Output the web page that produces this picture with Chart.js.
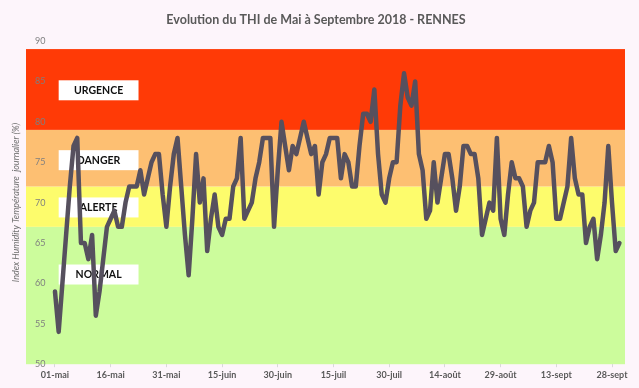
<!DOCTYPE html>
<html lang="fr">
<head>
<meta charset="utf-8">
<script src="https://cdn.jsdelivr.net/npm/chart.js@4.4.1/dist/chart.umd.min.js"></script>
<style>
    html, body { margin: 0; padding: 0; background: #fdf5fb; }
    #wrap { width: 639px; height: 388px; }
</style>
</head>
<body>
<div id="wrap"><canvas id="thiChart"></canvas></div>
<script>
// Données (1 valeur par jour, du 01-mai au 30-sept)
const dateLabels = ['01-mai', '16-mai', '31-mai', '15-juin', '30-juin', '15-juil', '30-juil', '14-août', '29-août', '13-sept', '28-sept'];
const labelDays = [0, 15, 30, 45, 60, 75, 90, 105, 120, 135, 150];
const thiValues = [
    59, 54, 60, 66, 72, 77, 78, 65, 65, 63, 66, 56, 59, 63, 67, 68, 69, 67, 67, 70,
    72, 72, 72, 74, 71, 73, 75, 76, 76, 71, 67, 72, 76, 78, 72, 66, 61, 68, 76, 70,
    73, 64, 68, 71, 67, 66, 68, 68, 72, 73, 78, 68, 69, 70, 73, 75, 78, 78, 78, 67,
    74, 80, 77, 74, 77, 76, 78, 80, 78, 76, 77, 71, 75, 76, 78, 78, 78, 73, 76, 75,
    72, 72, 77, 81, 81, 80, 84, 76, 71, 70, 73, 75, 75, 82, 86, 83, 82, 85, 76, 74,
    68, 69, 75, 70, 73, 76, 76, 73, 69, 72, 77, 77, 76, 76, 73, 66, 68, 70, 69, 78,
    68, 66, 71, 75, 73, 73, 72, 67, 69, 70, 75, 75, 75, 77, 75, 68, 68, 70, 72, 78,
    73, 71, 71, 65, 67, 68, 63, 66, 70, 77, 70, 64, 65
];
const zoneNames = ['NORMAL', 'ALERTE', 'DANGER', 'URGENCE'];
const zoneLimits = [50, 67, 72, 79, 89];
const yTicks = [50, 55, 60, 65, 70, 75, 80, 85, 90];

const zoneColors = ['#ccfc9c', '#fdfc6c', '#fdbf72', '#ff3a06'];
const fontFamily = 'Lato, "Open Sans", sans-serif';

// Bandes de couleur + étiquettes des zones
const zonesPlugin = {
    id: 'zones',
    beforeDraw(chart) {
        const { ctx, chartArea, scales } = chart;
        const y = scales.y;
        ctx.save();
        for (let i = 0; i < zoneNames.length; i++) {
            const top = y.getPixelForValue(zoneLimits[i + 1]);
            const bottom = y.getPixelForValue(zoneLimits[i]);
            ctx.fillStyle = zoneColors[i];
            ctx.fillRect(chartArea.left, top, chartArea.right - chartArea.left, bottom - top);
        }
        ctx.restore();
    },
    beforeDatasetsDraw(chart, args, opts) {
        const { ctx, scales } = chart;
        const x1 = scales.x.getPixelForValue(opts.fromDay);
        const x2 = scales.x.getPixelForValue(opts.toDay);
        ctx.save();
        ctx.font = 'bold 10.5px ' + fontFamily;
        ctx.textAlign = 'center';
        ctx.textBaseline = 'middle';
        zoneNames.forEach(function(name, i) {
            const cy = scales.y.getPixelForValue(opts.labelValues[i]);
            ctx.fillStyle = '#ffffff';
            ctx.fillRect(x1, cy - 10, x2 - x1, 20);
            ctx.fillStyle = '#111111';
            ctx.fillText(name, (x1 + x2) / 2, cy + 0.5);
        });
        ctx.restore();
    }
};

const ctx = document.getElementById('thiChart').getContext('2d');
new Chart(ctx, {
    type: 'line',
    data: {
        datasets: [{
            label: 'THI',
            data: thiValues.map(function(v, i) { return { x: i, y: v }; }),
            borderColor: '#56505e',
            borderWidth: 4.5,
            borderJoinStyle: 'round',
            borderCapStyle: 'round',
            pointRadius: 0,
            tension: 0,
            fill: false
        }]
    },
    options: {
        responsive: true,
        maintainAspectRatio: false,
        animation: false,
        layout: { padding: { left: 7, right: 14, bottom: 6 } },
        plugins: {
            legend: { display: false },
            tooltip: { enabled: false },
            title: {
                display: true,
                text: 'Evolution du THI de Mai à Septembre 2018 - RENNES',
                color: '#595959',
                font: { family: fontFamily, size: 12.5, weight: 'bold' },
                padding: { top: 12, bottom: 14 }
            },
            zones: {
                fromDay: 1,
                toDay: 22.5,
                labelValues: [61.1, 69.4, 75.25, 83.9]
            }
        },
        scales: {
            x: {
                type: 'linear',
                min: -7.8,
                max: 153.5,
                afterBuildTicks: function(axis) {
                    axis.ticks = labelDays.map(function(d) { return { value: d }; });
                },
                ticks: {
                    autoSkip: false,
                    maxRotation: 0,
                    padding: 2,
                    color: '#595959',
                    font: { family: fontFamily, size: 9, weight: 'bold' },
                    callback: function(value) {
                        const idx = labelDays.indexOf(value);
                        return idx >= 0 ? dateLabels[idx] : '';
                    }
                },
                grid: { drawOnChartArea: false, drawTicks: true, tickLength: 3, color: '#d9d9d9' },
                border: { display: false }
            },
            y: {
                min: 50,
                max: 90,
                afterBuildTicks: function(axis) {
                    axis.ticks = yTicks.map(function(v) { return { value: v }; });
                },
                afterFit: function(axis) {
                    axis.width = 19;
                },
                ticks: {
                    mirror: true,
                    padding: 9,
                    color: '#7f7f7f',
                    font: { family: fontFamily, size: 9 }
                },
                grid: { display: false },
                border: { display: false },
                title: {
                    display: true,
                    text: 'Index Humidity Température  journalier (%)',
                    color: '#6f6f6f',
                    font: { family: fontFamily, size: 9, style: 'italic' },
                    padding: { top: 4, bottom: 4 }
                }
            }
        }
    },
    plugins: [zonesPlugin]
});
</script>
</body>
</html>
